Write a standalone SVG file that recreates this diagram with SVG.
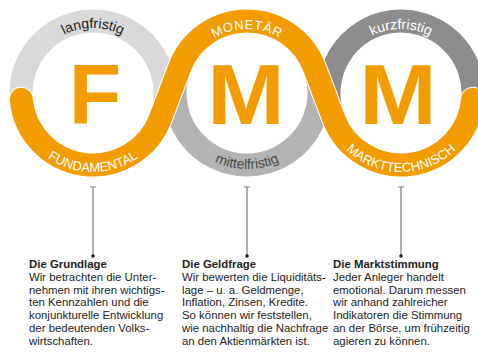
<svg xmlns="http://www.w3.org/2000/svg" width="478" height="352" viewBox="0 0 478 352">
<style>
.ring{fill:none;stroke-width:23}
.wave-o{fill:none;stroke:#ffffff;stroke-width:25;stroke-linecap:round}
.wave{fill:none;stroke:#f39c00;stroke-width:23;stroke-linecap:round}
.big{font-family:"Liberation Sans",Arial,sans-serif;font-weight:bold;font-size:86px;fill:#f39c00;text-anchor:middle}
.lab{font-family:"Liberation Sans",Arial,sans-serif;font-size:13px;text-anchor:middle}
.low{font-family:"Liberation Sans",Arial,sans-serif;font-size:14px;text-anchor:middle}
.body{font-family:"Liberation Sans",Arial,sans-serif;font-size:11.4px;fill:#222}
.body .h{font-weight:bold}
.conn{stroke:#7a7a7a;stroke-width:1.2;fill:none;marker-start:url(#tick);marker-end:url(#dot)}
</style>
<defs>
<marker id="tick" viewBox="-3 -1 6 2" markerWidth="6" markerHeight="2" markerUnits="userSpaceOnUse" orient="0" refX="0" refY="0">
<line x1="-3" y1="0" x2="3" y2="0" stroke="#7a7a7a" stroke-width="1"/>
</marker>
<marker id="dot" viewBox="-2 -2 4 4" markerWidth="4" markerHeight="4" markerUnits="userSpaceOnUse" orient="0" refX="0" refY="0">
<circle cx="0" cy="0" r="1.8" fill="#222"/>
</marker>
<path id="t1top" d="M 28 93 A 65 65 0 0 1 158 93"/>
<path id="t1bot" d="M 14 93 A 79 79 0 0 0 172 93"/>
<path id="t2top" d="M 183 93 A 64 64 0 0 1 311 93"/>
<path id="t2bot" d="M 171 93 A 76 76 0 0 0 323 93"/>
<path id="t3top" d="M 337 93 A 64 64 0 0 1 465 93"/>
<path id="t3bot" d="M 322 93 A 79 79 0 0 0 480 93"/>
</defs>

<g id="rings">
<path class="ring" stroke="#d9d9d9" d="M 21.27 99.28 A 72 72 0 1 1 160.33 118.51"/>
<path class="ring" stroke="#b3b3b3" d="M 314.33 67.49 A 72 72 0 1 1 179.67 67.49"/>
<path class="ring" stroke="#8c8c8c" d="M 333.67 118.51 A 72 72 0 1 1 472.73 99.28"/>
<path class="wave-o" d="M 21.27 99.28 A 72 72 0 0 0 160.33 118.51 L 179.67 67.49 A 72 72 0 0 1 314.33 67.49 L 333.67 118.51 A 72 72 0 0 0 472.73 99.28"/>
<path class="wave" d="M 21.27 99.28 A 72 72 0 0 0 160.33 118.51 L 179.67 67.49 A 72 72 0 0 1 314.33 67.49 L 333.67 118.51 A 72 72 0 0 0 472.73 99.28"/>
</g>

<g id="node-fundamental">
<text class="big" x="95" y="124">F</text>
<text class="low" fill="#222"><textPath href="#t1top" startOffset="50%">langfristig</textPath></text>
<text class="lab" fill="#ffffff"><textPath href="#t1bot" startOffset="50%">FUNDAMENTAL</textPath></text>
</g>

<g id="node-monetaer">
<text class="big" transform="translate(246 0) scale(1.08 1)" x="0" y="124">M</text>
<text class="lab" fill="#ffffff" letter-spacing="0.6"><textPath href="#t2top" startOffset="50%">MONETÄR</textPath></text>
<text class="low" fill="#4a4a4a"><textPath href="#t2bot" startOffset="50%">mittelfristig</textPath></text>
</g>

<g id="node-markttechnisch">
<text class="big" transform="translate(398 0) scale(1.08 1)" x="0" y="124">M</text>
<text class="low" fill="#ffffff"><textPath href="#t3top" startOffset="50%">kurzfristig</textPath></text>
<text class="lab" fill="#ffffff"><textPath href="#t3bot" startOffset="50%">MARKTTECHNISCH</textPath></text>
</g>

<g id="connectors">
<line class="conn" x1="93" y1="187" x2="93" y2="256"/>
<line class="conn" x1="247" y1="187" x2="247" y2="256"/>
<line class="conn" x1="401" y1="187" x2="401" y2="256"/>
</g>

<g id="text-grundlage" class="body">
<text x="29" y="268"><tspan class="h">Die Grundlage</tspan>
<tspan x="29" dy="12.8">Wir betrachten die Unter-</tspan>
<tspan x="29" dy="12.8">nehmen mit ihren wichtigs-</tspan>
<tspan x="29" dy="12.8">ten Kennzahlen und die</tspan>
<tspan x="29" dy="12.8">konjunkturelle Entwicklung</tspan>
<tspan x="29" dy="12.8">der bedeutenden Volks-</tspan>
<tspan x="29" dy="12.8">wirtschaften.</tspan></text>
</g>

<g id="text-geldfrage" class="body">
<text x="182" y="268"><tspan class="h">Die Geldfrage</tspan>
<tspan x="182" dy="12.8">Wir bewerten die Liquiditäts-</tspan>
<tspan x="182" dy="12.8">lage – u. a. Geldmenge,</tspan>
<tspan x="182" dy="12.8">Inflation, Zinsen, Kredite.</tspan>
<tspan x="182" dy="12.8">So können wir feststellen,</tspan>
<tspan x="182" dy="12.8">wie nachhaltig die Nachfrage</tspan>
<tspan x="182" dy="12.8">an den Aktienmärkten ist.</tspan></text>
</g>

<g id="text-marktstimmung" class="body">
<text x="333" y="268"><tspan class="h">Die Marktstimmung</tspan>
<tspan x="333" dy="12.8">Jeder Anleger handelt</tspan>
<tspan x="333" dy="12.8">emotional. Darum messen</tspan>
<tspan x="333" dy="12.8">wir anhand zahlreicher</tspan>
<tspan x="333" dy="12.8">Indikatoren die Stimmung</tspan>
<tspan x="333" dy="12.8">an der Börse, um frühzeitig</tspan>
<tspan x="333" dy="12.8">agieren zu können.</tspan></text>
</g>
</svg>
